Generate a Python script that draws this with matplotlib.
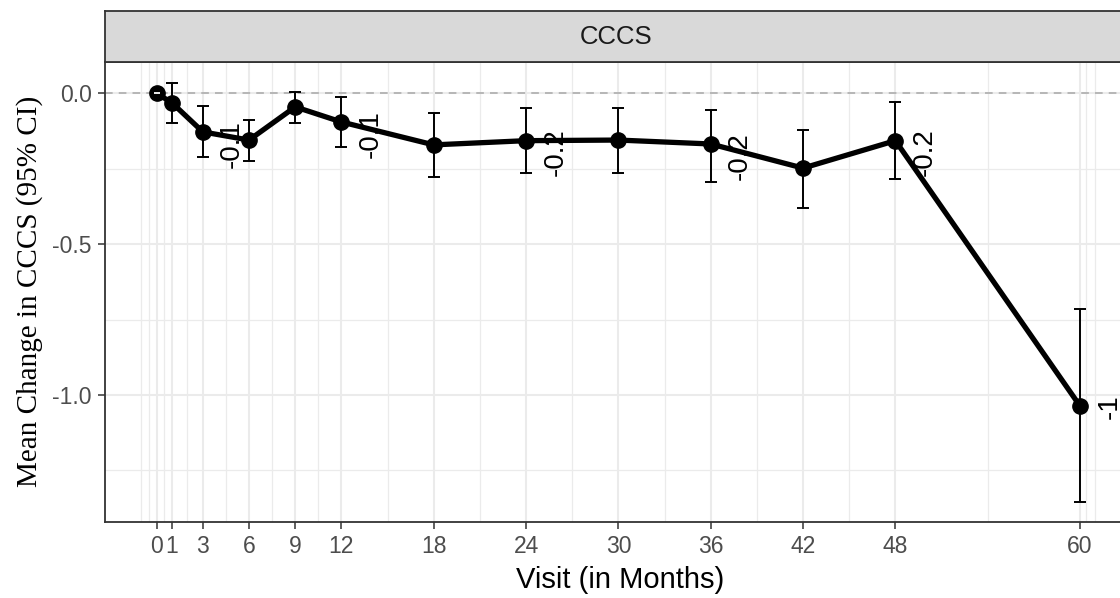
import matplotlib.pyplot as plt

# 数据：访视月份、均值变化及95%置信区间
visits = [0, 1, 3, 6, 9, 12, 18, 24, 30, 36, 42, 48, 60]
mean_change = [0.0, -0.032, -0.128, -0.155, -0.045, -0.095, -0.171,
               -0.157, -0.155, -0.168, -0.248, -0.157, -1.037]
ci_upper = [0.0, 0.034, -0.042, -0.088, 0.004, -0.012, -0.065,
            -0.048, -0.048, -0.055, -0.121, -0.028, -0.716]
ci_lower = [0.0, -0.098, -0.210, -0.225, -0.099, -0.178, -0.277,
            -0.264, -0.264, -0.294, -0.380, -0.284, -1.355]
label_visits = [3, 12, 24, 36, 48, 60]

x_breaks = visits
x_minor = [-1, -0.5, 0.5, 2, 4.5, 7.5, 10.5, 15, 21, 27, 33, 39, 45, 54, 60.4, 61]
y_breaks = [0.0, -0.5, -1.0]
y_minor = [-0.25, -0.75, -1.25]

SANS = ['Liberation Sans', 'DejaVu Sans']
SERIF = ['Liberation Serif', 'DejaVu Serif']

W, H = 1120, 598
fig = plt.figure(figsize=(W / 100, H / 100), dpi=100)

# 面板
left, right, top, bottom = 105, 1135, 61.7, 521.7
ax = fig.add_axes([left / W, 1 - bottom / H, (right - left) / W, (bottom - top) / H])
strip = fig.add_axes([left / W, 1 - top / H, (right - left) / W, (top - 11.4) / H])

ax.set_xlim(-3.36, 63.57)
ax.set_ylim(-1.4204, 0.1048)

# 网格线
ax.set_xticks(x_breaks)
ax.set_xticks(x_minor, minor=True)
ax.set_yticks(y_breaks)
ax.set_yticks(y_minor, minor=True)
ax.set_yticklabels([f"{v:.1f}" for v in y_breaks])
ax.grid(which='major', color='#EBEBEB', lw=1.5)
ax.grid(which='minor', color='#EBEBEB', lw=0.9)
ax.set_axisbelow(True)

ax.axhline(0, color='#A8A8A8', ls=(0, (5, 4)), lw=1.1, zorder=1)

# 误差线与折线
yerr = [[m - lo for m, lo in zip(mean_change, ci_lower)],
        [hi - m for m, hi in zip(mean_change, ci_upper)]]
ax.errorbar(visits, mean_change, yerr=yerr, fmt='none', ecolor='black',
            elinewidth=1.4, capsize=4.3, capthick=1.4, zorder=3)
ax.plot(visits, mean_change, color='black', lw=3.8, marker='o', ms=11, zorder=4)
ax.plot(visits[0], mean_change[0], marker='_', color='white', ms=4.5, mew=1.3, zorder=5)

# 数值标签
for v, m in zip(visits, mean_change):
    if v in label_visits:
        ax.annotate(f"{round(m, 1):g}", (v + 1.9, m), xytext=(0, 8.6),
                    textcoords='offset points', rotation=90, ha='center', va='top',
                    fontsize=20, family=SANS, color='black', zorder=6)

for s in ax.spines.values():
    s.set_color('#333333')
    s.set_linewidth(1.3)

ax.tick_params(which='major', labelsize=16.5, labelcolor='#4D4D4D', color='#333333',
               length=5, width=1.1, pad=4.5)
ax.tick_params(which='minor', length=0)
for t in ax.get_xticklabels() + ax.get_yticklabels():
    t.set_family(SANS)

ax.set_xlabel('Visit (in Months)', fontsize=21, family=SANS, color='black', labelpad=6)
ax.set_ylabel('Mean Change in CCCS (95% CI)', fontsize=21, family=SERIF,
              color='black', labelpad=7)

# 分面标题条
strip.set_facecolor('#D9D9D9')
strip.set_xticks([])
strip.set_yticks([])
for s in strip.spines.values():
    s.set_color('#333333')
    s.set_linewidth(1.3)
strip.text(0.496, 0.5, 'CCCS', ha='center', va='center', fontsize=18.5,
           family=SANS, color='#1A1A1A', transform=strip.transAxes)

fig.savefig('out.png', dpi=100)
